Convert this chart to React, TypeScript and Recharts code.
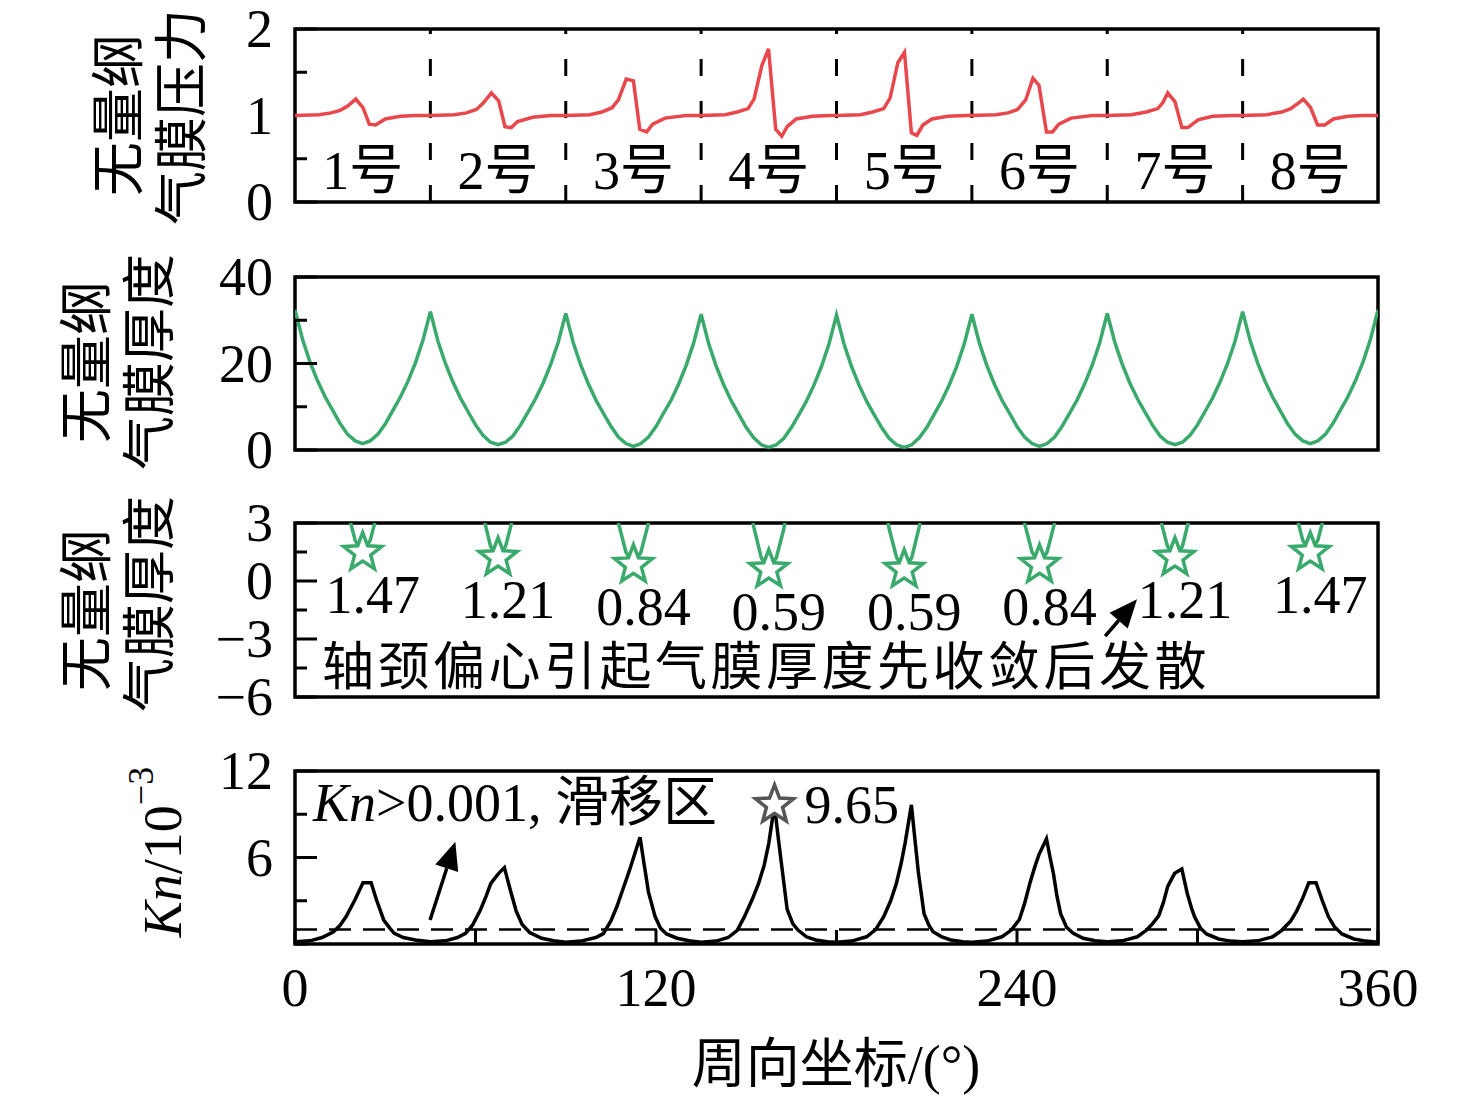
import React from 'react'
import { ComposedChart, Line, Scatter, XAxis, YAxis, ReferenceLine, ReferenceArea } from 'recharts'

const FONT = '"Liberation Serif", "Noto Sans CJK SC", serif'
const RED = '#e8474c'
const GREEN = '#3aa96c'
const GREY = '#555555'
const FS = 54

// pad layout (deg)
const padEdges = [45, 90, 135, 180, 225, 270, 315]
const padCentres = [22.5, 67.5, 112.5, 157.5, 202.5, 247.5, 292.5, 337.5]
const padNames = ['1号', '2号', '3号', '4号', '5号', '6号', '7号', '8号']

// dimensionless film pressure
const pressureDeg = [
  0, 8, 12, 15, 17.5, 20.2, 22.6, 24.7, 26.8, 30, 35, 40,
  45, 53, 57, 60.3, 62.5, 65.3, 67.7, 69.8, 71.9, 74, 79, 85,
  90, 98, 102, 105.4, 107.5, 110.1, 112.5, 114.6, 116.9, 118.9, 123, 130,
  135, 143, 147, 150.6, 152.6, 155.2, 157.4, 159.8, 161.8, 163.6, 166.6, 172, 178,
  180, 188, 192, 195.7, 197.8, 200.4, 202.6, 204.9, 206.7, 208.7, 211.7, 217, 223,
  225, 233, 237, 240.2, 242.9, 245.3, 247.3, 249.8, 251.8, 253.9, 258, 265,
  270, 278, 283, 286.8, 288.5, 290.1, 292.5, 294.8, 296.8, 300.2, 305, 312,
  315, 323, 328, 331, 333, 335.2, 337.6, 339.9, 342.3, 345.2, 350, 355, 360,
]
const pressureVal = [
  1.0, 1.01, 1.03, 1.06, 1.11, 1.19, 1.09, 0.9, 0.89, 0.96, 0.99, 1.0,
  1.0, 1.01, 1.03, 1.07, 1.14, 1.26, 1.17, 0.87, 0.86, 0.93, 0.98, 1.0,
  1.0, 1.01, 1.04, 1.09, 1.18, 1.42, 1.4, 0.84, 0.81, 0.9, 0.97, 1.0,
  1.0, 1.01, 1.04, 1.08, 1.19, 1.58, 1.77, 0.84, 0.76, 0.87, 0.96, 0.99, 1.0,
  1.0, 1.01, 1.04, 1.08, 1.2, 1.61, 1.73, 0.8, 0.77, 0.89, 0.96, 0.99, 1.0,
  1.0, 1.01, 1.03, 1.07, 1.18, 1.43, 1.35, 0.81, 0.81, 0.9, 0.97, 1.0,
  1.0, 1.01, 1.04, 1.08, 1.15, 1.26, 1.16, 0.86, 0.86, 0.95, 0.99, 1.0,
  1.0, 1.01, 1.04, 1.08, 1.13, 1.19, 1.09, 0.89, 0.89, 0.96, 0.99, 1.0, 1.0,
]

// dimensionless film thickness, per pad, sampled every 2.5 deg from the pad start
const filmStarts = [0, 45, 90, 135, 180, 225, 270, 315]
const filmOffsets = [0, 2.5, 5, 7.5, 10, 12.5, 15, 17.5, 20, 22.5, 25, 27.5, 30, 32.5, 35, 37.5, 40, 42.5]
const filmPad1 = [32.4, 25.6, 20.3, 16.0, 12.3, 9.2, 6.1, 3.6, 2.1, 1.47, 2.1, 3.6, 6.0, 9.1, 12.2, 15.8, 20.1, 25.3]
const filmPad2 = [32.0, 25.2, 20.0, 15.7, 12.0, 8.9, 5.8, 3.4, 1.8, 1.21, 1.8, 3.3, 5.8, 8.8, 11.9, 15.5, 19.8, 24.9]
const filmPad3 = [31.6, 24.8, 19.6, 15.3, 11.6, 8.5, 5.5, 3.0, 1.5, 0.84, 1.5, 3.0, 5.4, 8.5, 11.5, 15.2, 19.5, 24.7]
const filmPad4 = [31.4, 24.6, 19.4, 15.1, 11.4, 8.3, 5.2, 2.8, 1.2, 0.59, 1.2, 2.7, 5.2, 8.2, 11.3, 15.0, 19.3, 24.5]
const filmPad5 = [31.2, 24.5, 19.3, 15.0, 11.3, 8.2, 5.2, 2.7, 1.2, 0.59, 1.2, 2.8, 5.2, 8.3, 11.4, 15.1, 19.4, 24.6]
const filmPad6 = [31.4, 24.7, 19.5, 15.2, 11.5, 8.5, 5.4, 3.0, 1.5, 0.84, 1.5, 3.0, 5.5, 8.5, 11.6, 15.3, 19.6, 24.8]
const filmPad7 = [31.6, 24.9, 19.8, 15.5, 11.9, 8.8, 5.8, 3.3, 1.8, 1.21, 1.8, 3.4, 5.8, 8.9, 12.0, 15.7, 20.0, 25.2]
const filmPad8 = [32.0, 25.3, 20.1, 15.8, 12.2, 9.1, 6.0, 3.6, 2.1, 1.47, 2.1, 3.6, 6.1, 9.2, 12.3, 16.0, 20.3, 25.6]
const filmEnd = 32.4

// minimum film thickness per pad
const minFilmDeg = [22.5, 67.5, 112.5, 157.5, 202.5, 247.5, 292.5, 337.5]
const minFilmVal = [1.47, 1.21, 0.84, 0.59, 0.59, 0.84, 1.21, 1.47]

// Knudsen number (x 10^-3)
const knDeg = [
  0, 5, 9, 12.8, 15, 17, 19.9, 22.6, 25.3, 27.1, 29.5, 31.5, 33, 36, 40,
  45, 50, 54, 56.7, 59, 61.5, 63.5, 65.1, 67.7, 69.6, 71.5, 73.5, 75.5, 78, 82, 86,
  90, 95, 100, 102.5, 105, 107, 109, 111, 113, 114.7, 116, 117.5, 119.7, 121.5, 123.5, 127, 131,
  135, 140, 144, 147, 149.4, 152, 154.1, 156, 157.5, 159.4, 160.5, 161.8, 163.6, 165.5, 167.2, 170, 173.1, 177,
  180, 185, 190, 193, 195.7, 198, 199.9, 201.5, 202.8, 204.9, 206, 207.2, 209.1, 210.7, 212.1, 215, 218, 222,
  225, 230, 235, 238, 240.8, 242.5, 244.4, 246, 247.3, 249.8, 251, 252.1, 253.3, 254.5, 256.5, 258.7, 262, 266,
  270, 275, 280, 283, 285, 287.1, 288.7, 290.1, 292.4, 294.8, 296.6, 298, 299, 301, 303, 307, 311,
  315, 320, 325, 328, 331, 333, 335, 337, 339.4, 341.5, 343.5, 345.5, 348, 352, 356, 360,
]
const knVal = [
  0.15, 0.22, 0.45, 0.85, 1.3, 1.9, 3.05, 4.25, 4.25, 3.05, 1.66, 1.1, 0.74, 0.45, 0.28,
  0.15, 0.22, 0.45, 0.74, 1.3, 2.3, 3.3, 4.2, 4.9, 5.3, 3.8, 2.3, 1.35, 0.8, 0.4, 0.22,
  0.12, 0.2, 0.45, 0.72, 1.6, 2.6, 3.8, 5.0, 6.3, 7.4, 5.6, 3.6, 1.9, 1.1, 0.7, 0.4, 0.22,
  0.12, 0.2, 0.45, 0.95, 1.9, 3.1, 4.2, 5.5, 7.0, 9.65, 7.6, 5.4, 2.4, 1.4, 0.97, 0.5, 0.28, 0.16,
  0.12, 0.2, 0.5, 1.0, 1.9, 3.0, 4.2, 5.6, 7.0, 9.65, 7.4, 5.0, 2.1, 1.3, 0.85, 0.5, 0.28, 0.16,
  0.12, 0.2, 0.5, 0.95, 1.7, 2.8, 4.3, 5.4, 6.2, 7.3, 6.0, 4.9, 3.3, 2.1, 1.15, 0.74, 0.4, 0.22,
  0.15, 0.22, 0.5, 0.95, 1.4, 1.95, 2.9, 4.0, 4.9, 5.2, 3.5, 2.5, 1.9, 1.1, 0.7, 0.35, 0.2,
  0.15, 0.22, 0.5, 0.95, 1.6, 2.3, 3.2, 4.25, 4.25, 3.0, 1.9, 1.2, 0.7, 0.35, 0.2, 0.12,
]
const knSlipLimit = 1
const knMarkDeg = [159.4]
const knMarkVal = [9.65]

// annotation arrows (tail, head) in data units
const filmArrow = [{ x: 269.3, y: -2.85 }, { x: 279.9, y: -0.95 }]
const knArrow = [{ x: 44.9, y: 1.66 }, { x: 53.3, y: 7.1 }]

const xTicks = [0, 60, 120, 180, 240, 300, 360]
const xLabels: Record<string, string> = { '0': '0', '120': '120', '240': '240', '360': '360' }

const pressureRows = pressureDeg.map((x, i) => ({ x, y: pressureVal[i] }))
const filmPads = [filmPad1, filmPad2, filmPad3, filmPad4, filmPad5, filmPad6, filmPad7, filmPad8]
const filmRows = filmStarts
  .flatMap((s, i) => filmOffsets.map((o, j) => ({ x: s + o, y: filmPads[i][j] })))
  .concat([{ x: 360, y: filmEnd }])
const minFilmRows = minFilmDeg.map((x, i) => ({ x, y: minFilmVal[i] }))
const knRows = knDeg.map((x, i) => ({ x, y: knVal[i] }))
const knMarkRows = knMarkDeg.map((x, i) => ({ x, y: knMarkVal[i] }))

const LW = 3.5

const starPoints = (cx: number, cy: number, R: number, r: number) => {
  const pts: string[] = []
  for (let i = 0; i < 10; i++) {
    const rad = i % 2 === 0 ? R : r
    const a = -Math.PI / 2 + (i * Math.PI) / 5
    pts.push(`${cx + rad * Math.cos(a)},${cy + rad * Math.sin(a)}`)
  }
  return pts.join(' ')
}

// inward tick marks; labelled ticks are longer. `bare` lists ticks hidden under the curve.
const yTick = (labels: Record<string, string>, bare: string[] = []) => (p: any) => {
  const key = String(p.payload.value)
  const label = labels[key]
  const len = bare.includes(key) ? 0 : label !== undefined ? 22 : 12
  return (
    <g>
      {len > 0 && <line x1={p.x} x2={p.x + len} y1={p.y} y2={p.y} stroke="#000" strokeWidth={3} />}
      {label !== undefined && (
        <text x={p.x - 22} y={p.y} dy="0.34em" textAnchor="end" fontFamily={FONT} fontSize={FS} fill="#000">
          {label}
        </text>
      )}
    </g>
  )
}

const xTick = (p: any) => {
  const label = xLabels[String(p.payload.value)]
  return (
    <g>
      <line x1={p.x} x2={p.x} y1={p.y} y2={p.y - 14} stroke="#000" strokeWidth={3} />
      {label !== undefined && (
        <text x={p.x} y={p.y + 44} dy="0.34em" textAnchor="middle" fontFamily={FONT} fontSize={FS} fill="#000">
          {label}
        </text>
      )}
    </g>
  )
}

const arrowShape = (p: any) => {
  const { x1, y1, x2, y2 } = p
  const a = Math.atan2(y2 - y1, x2 - x1)
  const L = 28
  const W = 12
  const bx = x2 - L * Math.cos(a)
  const by = y2 - L * Math.sin(a)
  const pts = `${x2},${y2} ${bx - W * Math.sin(a)},${by + W * Math.cos(a)} ${bx + W * Math.sin(a)},${by - W * Math.cos(a)}`
  return (
    <g>
      <line x1={x1} y1={y1} x2={bx} y2={by} stroke="#000" strokeWidth={3.5} />
      <polygon points={pts} fill="#000" />
    </g>
  )
}

const FilmStar = (p: any) => (
  <g>
    <polygon points={starPoints(p.cx, p.cy, 20, 8.5)} fill="#fff" stroke={GREEN} strokeWidth={3.5} />
    <text x={p.cx + 10} y={p.cy + 42} dy="0.34em" textAnchor="middle" fontFamily={FONT} fontSize={FS} fill="#000">
      {p.payload.y.toFixed(2)}
    </text>
  </g>
)

const KnStar = (p: any) => (
  <g>
    <polygon points={starPoints(p.cx, p.cy, 20, 8.5)} fill="#fff" stroke={GREY} strokeWidth={3.5} />
    <text x={p.cx + 30} y={p.cy} dy="0.34em" textAnchor="start" fontFamily={FONT} fontSize={FS} fill="#000">
      {p.payload.y.toFixed(2)}
    </text>
  </g>
)

const W = 1476
const MARGIN_X = { left: 215, right: 98 }

const frame = (y1: number, y2: number) => (
  <ReferenceArea x1={0} x2={360} y1={y1} y2={y2} fill="none" stroke="#000" strokeWidth={3.5} ifOverflow="visible" />
)

const hiddenX = <XAxis type="number" dataKey="x" domain={[0, 360]} hide allowDataOverflow />

const VTitle = ({ x, y, text }: { x: number; y: number; text: string }) => (
  <text
    transform={`translate(${x},${y}) rotate(-90)`}
    textAnchor="middle"
    dominantBaseline="central"
    fontFamily={FONT}
    fontSize={FS}
    fill="#000"
  >
    {text}
  </text>
)

export default function App() {
  return (
    <div style={{ position: 'absolute', left: 0, top: 0, width: W, height: 1102, background: '#fff' }}>
      {/* pressure */}
      <div style={{ position: 'absolute', left: 0, top: 0 }}>
        <ComposedChart width={W} height={240} margin={{ top: 29, bottom: 38, ...MARGIN_X }}>
          {hiddenX}
          <YAxis
            type="number"
            dataKey="y"
            domain={[0, 2]}
            ticks={[0, 0.5, 1, 1.5, 2]}
            interval={0}
            width={80}
            axisLine={false}
            tickLine={false}
            tickSize={0}
            tickMargin={0}
            tick={yTick({ '0': '0', '1': '1', '2': '2' }, ['1'])}
          />
          {padEdges.map((e) => (
            <ReferenceLine key={e} x={e} stroke="#000" strokeWidth={3} strokeDasharray="17 25" />
          ))}
          {padCentres.map((c, i) => (
            <ReferenceLine
              key={`n${c}`}
              x={c}
              stroke="none"
              label={{ value: padNames[i], position: 'insideBottom', offset: 13, fontSize: FS, fontFamily: FONT, fill: '#000' }}
            />
          ))}
          <Line data={pressureRows} dataKey="y" type="linear" stroke={RED} strokeWidth={LW} dot={false} isAnimationActive={false} />
          {frame(0, 2)}
        </ComposedChart>
      </div>

      {/* film thickness */}
      <div style={{ position: 'absolute', left: 0, top: 240 }}>
        <ComposedChart width={W} height={240} margin={{ top: 37, bottom: 30, ...MARGIN_X }}>
          {hiddenX}
          <YAxis
            type="number"
            dataKey="y"
            domain={[0, 40]}
            ticks={[0, 10, 20, 30, 40]}
            interval={0}
            width={80}
            axisLine={false}
            tickLine={false}
            tickSize={0}
            tickMargin={0}
            tick={yTick({ '0': '0', '20': '20', '40': '40' })}
          />
          <Line data={filmRows} dataKey="y" type="linear" stroke={GREEN} strokeWidth={LW} dot={false} isAnimationActive={false} />
          {frame(0, 40)}
        </ComposedChart>
      </div>

      {/* film thickness, zoomed near minimum */}
      <div style={{ position: 'absolute', left: 0, top: 480 }}>
        <ComposedChart width={W} height={252} margin={{ top: 43, bottom: 35, ...MARGIN_X }}>
          {hiddenX}
          <YAxis
            type="number"
            dataKey="y"
            domain={[-6, 3]}
            allowDataOverflow
            ticks={[-6, -4.5, -3, -1.5, 0, 1.5, 3]}
            interval={0}
            width={80}
            axisLine={false}
            tickLine={false}
            tickSize={0}
            tickMargin={0}
            tick={yTick({ '3': '3', '0': '0', '-3': '−3', '-6': '−6' })}
          />
          <Line data={filmRows} dataKey="y" type="linear" stroke={GREEN} strokeWidth={LW} dot={false} isAnimationActive={false} />
          <Scatter data={minFilmRows} dataKey="y" shape={FilmStar} isAnimationActive={false} />
          <ReferenceLine segment={filmArrow} shape={arrowShape} />
          {frame(-6, 3)}
        </ComposedChart>
      </div>

      {/* Knudsen number */}
      <div style={{ position: 'absolute', left: 0, top: 730 }}>
        <ComposedChart width={W} height={372} margin={{ top: 41, bottom: 98, ...MARGIN_X }}>
          <XAxis
            type="number"
            dataKey="x"
            domain={[0, 360]}
            ticks={xTicks}
            interval={0}
            height={60}
            axisLine={false}
            tickLine={false}
            tickSize={0}
            tickMargin={0}
            tick={xTick}
          />
          <YAxis
            type="number"
            dataKey="y"
            domain={[0, 12]}
            ticks={[0, 3, 6, 9, 12]}
            interval={0}
            width={80}
            axisLine={false}
            tickLine={false}
            tickSize={0}
            tickMargin={0}
            tick={yTick({ '6': '6', '12': '12' })}
          />
          <ReferenceLine y={knSlipLimit} stroke="#000" strokeWidth={2.5} strokeDasharray="22 12" />
          <Line data={knRows} dataKey="y" type="linear" stroke="#000" strokeWidth={LW} dot={false} isAnimationActive={false} />
          <Scatter data={knMarkRows} dataKey="y" shape={KnStar} isAnimationActive={false} />
          <ReferenceLine segment={knArrow} shape={arrowShape} />
          {frame(0, 12)}
        </ComposedChart>
      </div>

      {/* titles and notes */}
      <svg width={W} height={1102} style={{ position: 'absolute', left: 0, top: 0, pointerEvents: 'none' }}>
        <VTitle x={120} y={115} text="无量纲" />
        <VTitle x={183} y={117} text="气膜压力" />
        <VTitle x={88} y={362} text="无量纲" />
        <VTitle x={151} y={362} text="气膜厚度" />
        <VTitle x={88} y={610} text="无量纲" />
        <VTitle x={151} y={604} text="气膜厚度" />
        <text
          transform="translate(163,852) rotate(-90)"
          textAnchor="middle"
          dominantBaseline="central"
          fontFamily={FONT}
          fontSize={FS}
          fill="#000"
        >
          <tspan fontStyle="italic">Kn</tspan>
          <tspan>/10</tspan>
          <tspan dy={-22} fontSize={36}>−3</tspan>
        </text>
        <text x={322} y={667} dy="0.34em" fontFamily={FONT} fontSize={52} letterSpacing={3.5} fill="#000">
          轴颈偏心引起气膜厚度先收敛后发散
        </text>
        <text x={313} y={803} dy="0.34em" fontFamily={FONT} fontSize={FS} fill="#000">
          <tspan fontStyle="italic">Kn</tspan>
          <tspan>{'>0.001, 滑移区'}</tspan>
        </text>
        <text x={836} y={1065} dy="0.34em" textAnchor="middle" fontFamily={FONT} fontSize={FS} fill="#000">
          周向坐标/(°)
        </text>
      </svg>
    </div>
  )
}
